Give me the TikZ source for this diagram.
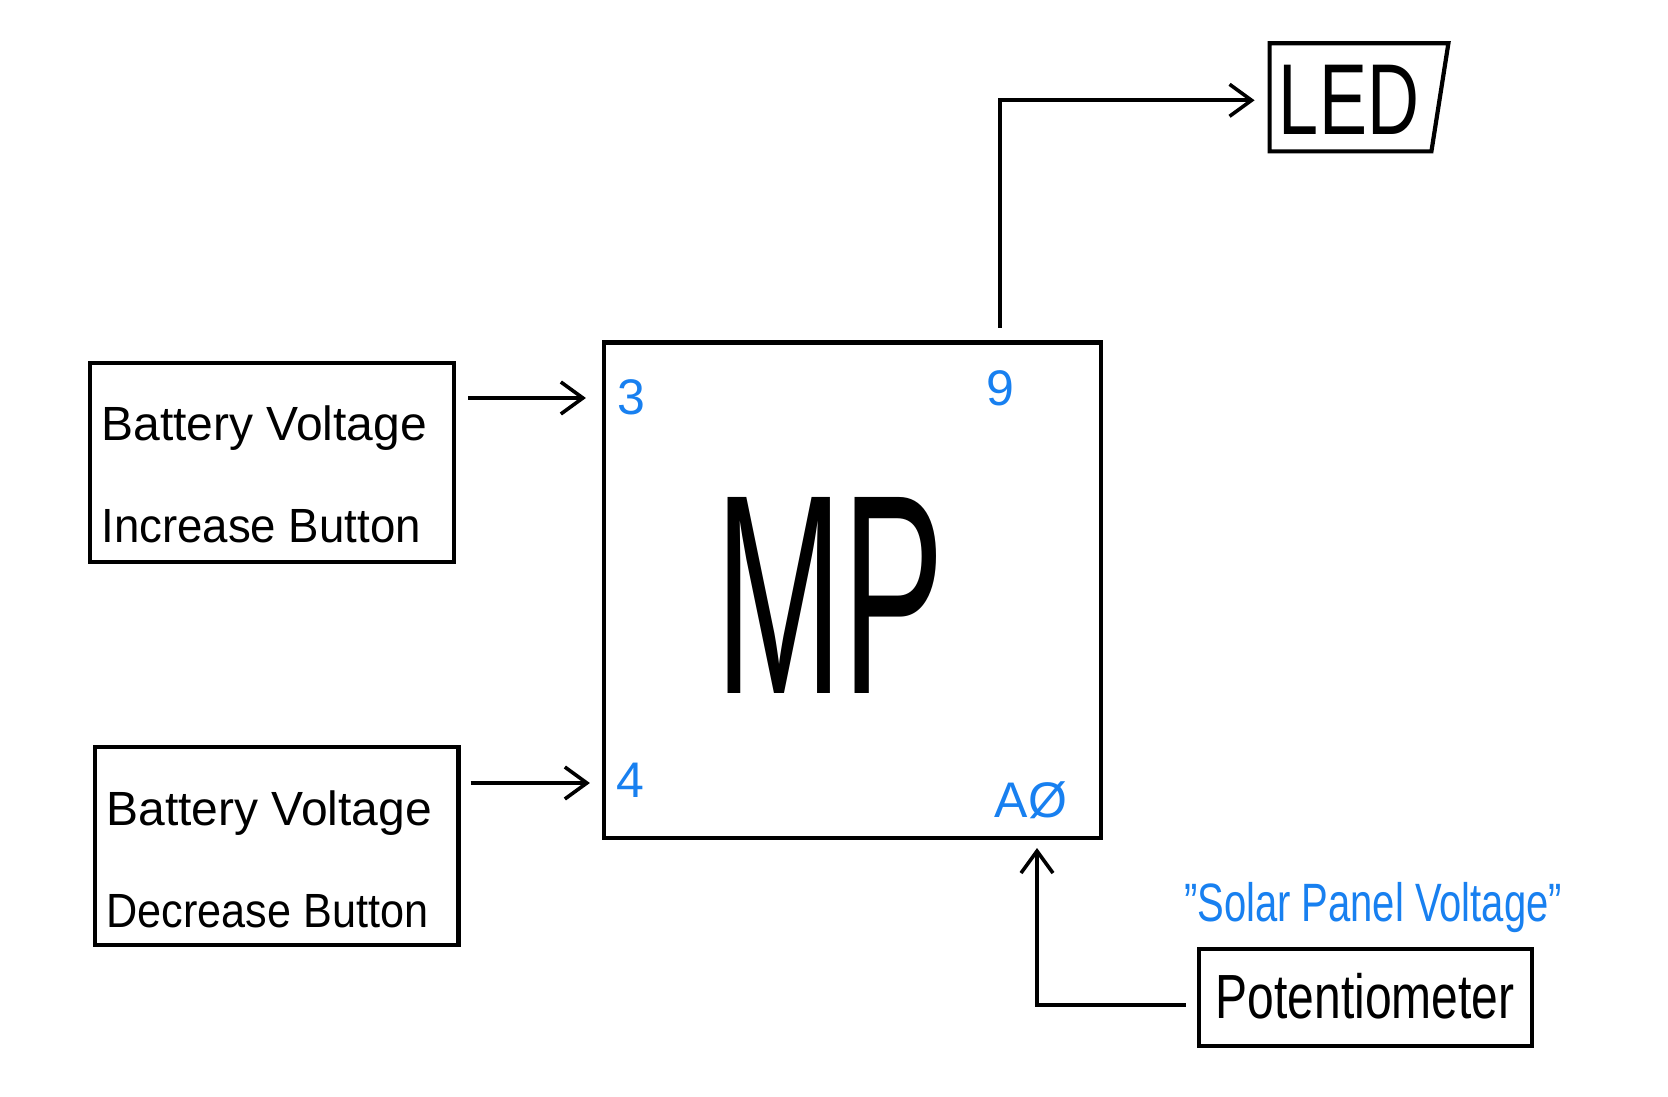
\documentclass[tikz,border=0pt]{standalone}
\usepackage{fontspec}
\setmainfont{Liberation Sans}
\usetikzlibrary{arrows.meta,calc}
\definecolor{pinblue}{RGB}{24,128,240}
\begin{document}
\begin{tikzpicture}[x=0.5pt,y=-0.5pt,
  box/.style={draw,line width=2.1pt,rectangle,inner sep=0pt},
  arr/.style={line width=1.8pt,-{Straight Barb[length=11pt,width=16pt]}},
  boxtext/.style={font=\fontsize{24}{51}\selectfont,align=left,inner sep=0pt},
  pin/.style={text=pinblue,font=\fontsize{25}{25}\selectfont,inner sep=0pt}]
\useasboundingbox[fill=white] (0,0) rectangle (1668,1096);
% boxes
\node[box,minimum width=182pt,minimum height=99.5pt] (inc) at (272,462.5) {};
\node[boxtext,anchor=west] (inctext) at (101,474) {Battery Voltage\\\scalebox{0.95}[1]{Increase Button}};
\node[box,minimum width=181.75pt,minimum height=99pt] (dec) at (276.75,846) {};
\node[boxtext,anchor=west] (dectext) at (106,859) {Battery Voltage\\\scalebox{0.9}[1]{Decrease Button}};
\node[box,minimum width=248.5pt,minimum height=247.75pt] (mp) at (852.5,590.25) {};
\node[font=\fontsize{75}{75}\selectfont,inner sep=0pt] (mptext) at (830,595) {\scalebox{1.02}[1.9]{MP}};
\node[box,minimum width=166.5pt,minimum height=48.5pt] (pot) at (1365.5,997.5) {};
\node[font=\fontsize{24}{24}\selectfont,inner sep=0pt] (pottext) at (1365,996) {\scalebox{1}[1.3]{Potentiometer}};
\node[minimum width=89pt,minimum height=53.7pt,inner sep=0pt] (led) at (1359,97.3) {};
\node[font=\fontsize{36}{36}\selectfont,inner sep=0pt] (ledtext) at (1349,99.5) {\scalebox{1}[1.4]{LED}};
\draw[line width=2.1pt,line join=miter] (led.north west) -- (led.north east) -- ($(led.south east)+(-17,0)$) -- (led.south west) -- cycle;
% pin labels
\node[pin] (p3) at (631,397) {3};
\node[pin] (p9) at (1000,388) {9};
\node[pin] (p4) at (630,780) {4};
\node[pin] (pa0) at (1031,800) {AØ};
\node[text=pinblue,font=\fontsize{20}{20}\selectfont,inner sep=0pt] (solar) at (1373,908) {\scalebox{1}[1.35]{"Solar Panel Voltage"}};
% connectors
\coordinate (y3) at (0,398);
\coordinate (y4) at (0,783);
\coordinate (y5) at (0,1005);
\coordinate (o9) at (1000,328);
\coordinate (a0in) at (1037,848);
\draw[arr] ($(inc.east |- y3)+(12,0)$) -- ($(mp.west |- y3)+(-16,0)$);
\draw[arr] ($(dec.east |- y4)+(10,0)$) -- ($(mp.west |- y4)+(-12,0)$);
\draw[arr] (o9) |- ($(led.west)+(-15,3)$);
\draw[arr] ($(pot.west |- y5)+(-11,0)$) -| (a0in);
\end{tikzpicture}
\end{document}
